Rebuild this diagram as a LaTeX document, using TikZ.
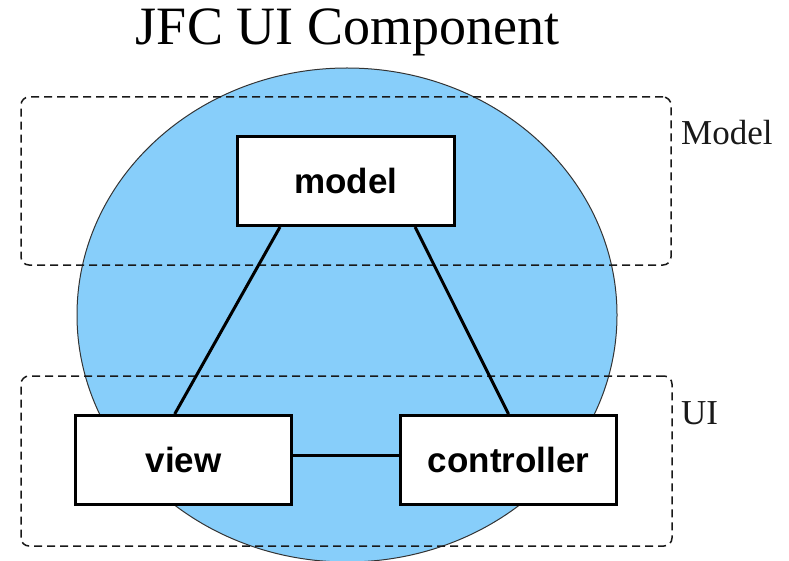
\documentclass[tikz,border=0pt]{standalone}
\usepackage{fontspec}
\setmainfont{Liberation Serif}
\newfontfamily\boxfont{Liberation Sans}
\usetikzlibrary{calc}
\definecolor{skyfill}{RGB}{135,206,250}
\begin{document}
\begin{tikzpicture}[x=1pt,y=-1pt,
  compbox/.style={draw, line width=3pt, fill=white, minimum width=216pt, minimum height=89pt, inner sep=0pt, font=\boxfont\bfseries\fontsize{35}{40}\selectfont},
  groupbox/.style={draw=black!90, dash pattern=on 8pt off 5pt, line width=1.5pt, rounded corners=8pt, inner sep=0pt},
  link/.style={line width=3pt},
  grouplabel/.style={font=\fontsize{35}{40}\selectfont, anchor=base west, inner sep=0pt, text=black!90},
  bubble/.style={draw=black!80, line width=1pt, fill=skyfill}]
\useasboundingbox (0,0) rectangle (789,561);
\draw[bubble] (347,315) ellipse [x radius=270, y radius=247];
\node[font=\fontsize{54}{60}\selectfont, anchor=base, inner sep=0pt] (title) at (347.5,45) {JFC UI Component};
\node[groupbox, minimum width=650pt, minimum height=168pt] (modelgroup) at (346,181) {};
\node[groupbox, minimum width=651pt, minimum height=170pt] (uigroup) at (346.5,461) {};
\node[grouplabel] (modellabel) at (681,145) {Model};
\node[grouplabel] (uilabel) at (681,424) {UI};
\node[compbox, minimum width=217pt] (model) at (346,181) {model};
\node[compbox] (view) at (183.5,460) {view};
\node[compbox] (controller) at (508.5,460) {controller};
\draw[link] ($(model.south west)!0.2!(model.south east)$) -- ($(view.north west)!0.46!(view.north east)$);
\draw[link] ($(model.south west)!0.814!(model.south east)$) -- ($(controller.north west)!0.5!(controller.north east)$);
\draw[link] ([yshift=5pt]view.east) -- ([yshift=5pt]controller.west);
\end{tikzpicture}
\end{document}
